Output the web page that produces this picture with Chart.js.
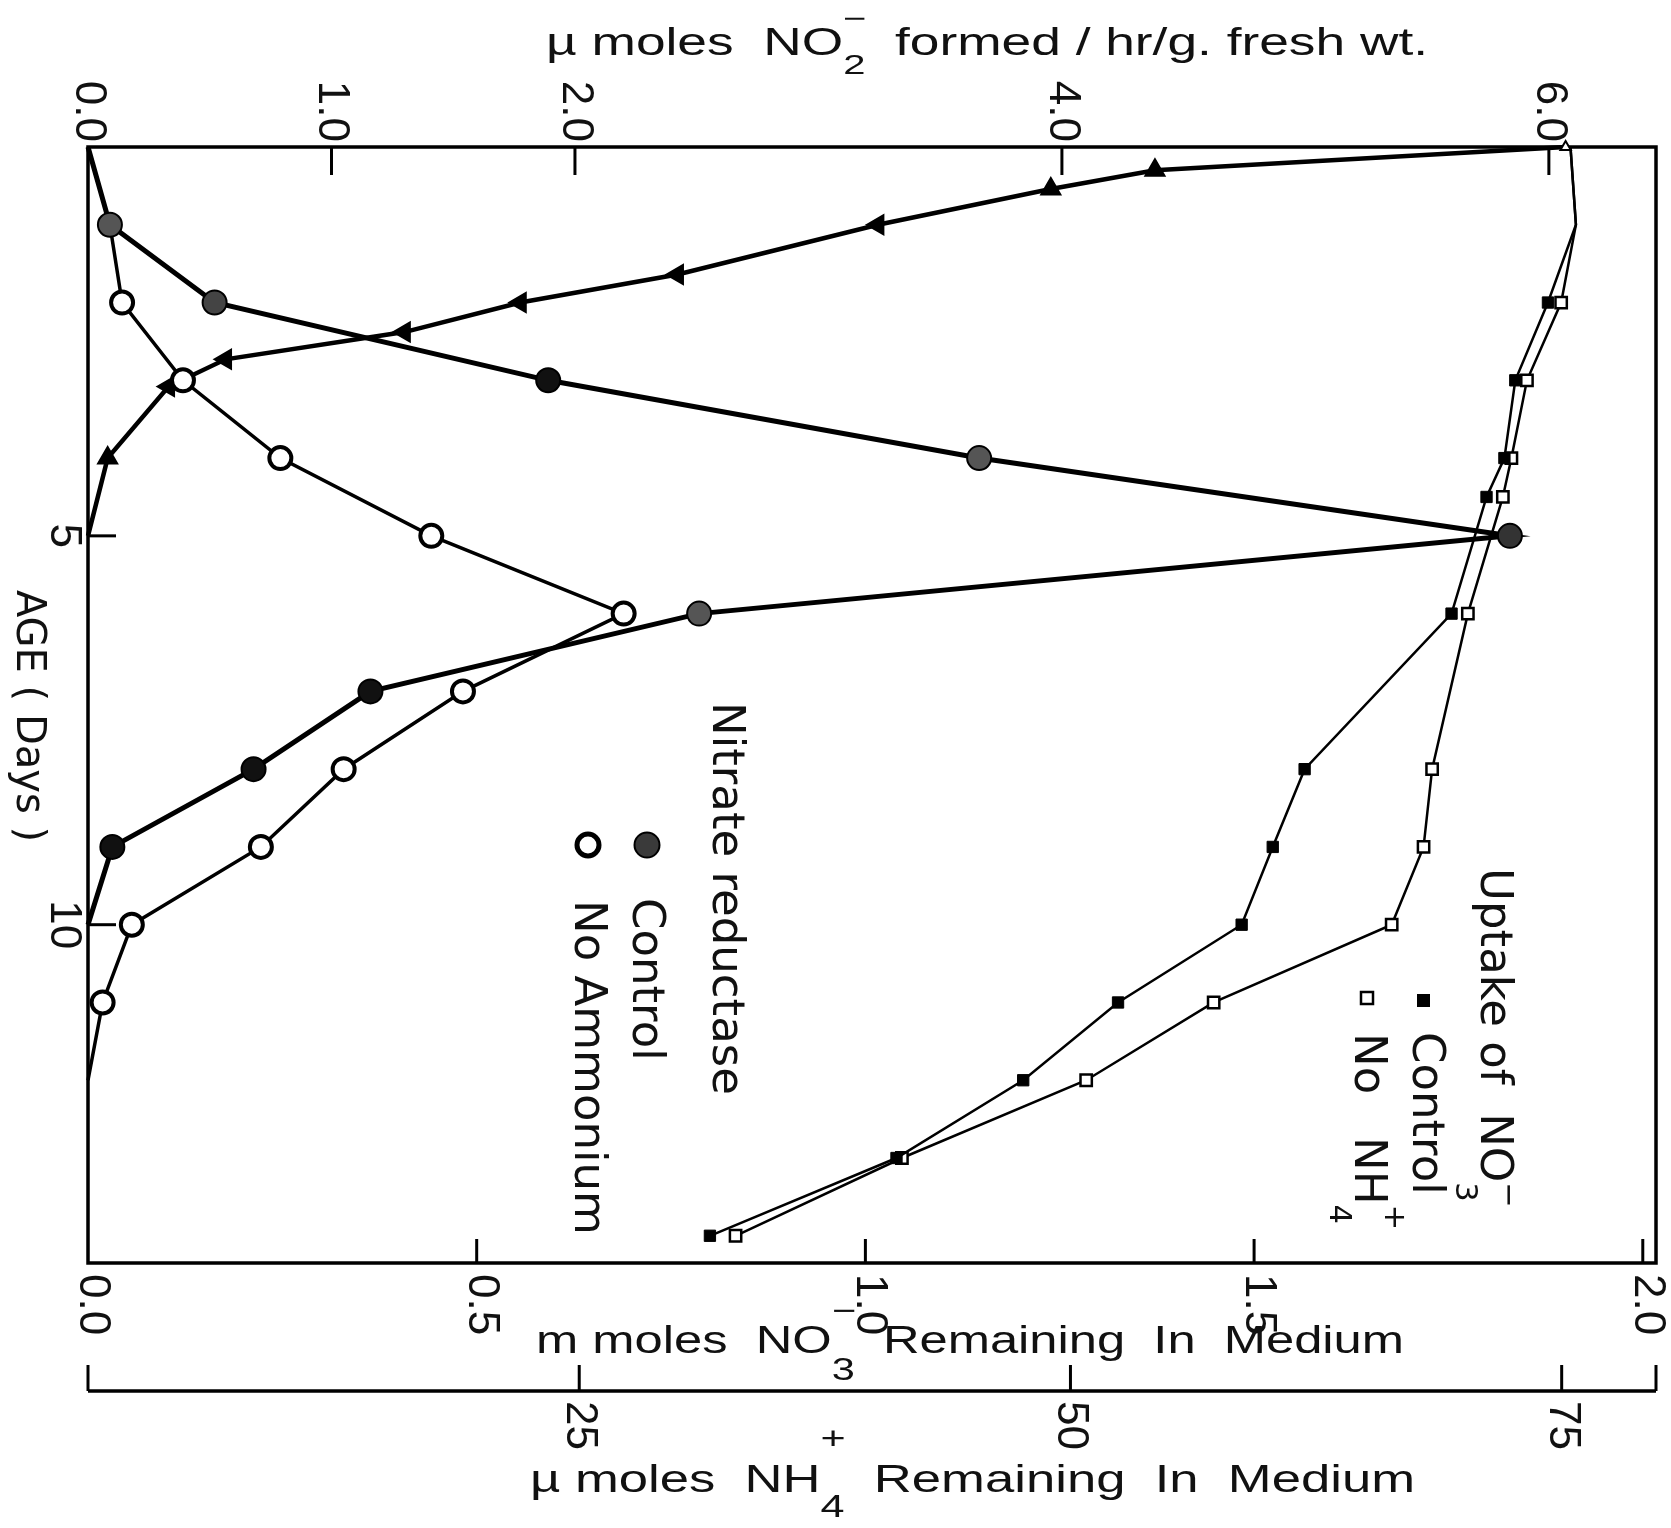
<!DOCTYPE html>
<html>
<head>
<meta charset="utf-8">
<title>Nitrate reductase and nitrate uptake</title>
<script src="https://cdn.jsdelivr.net/npm/chart.js@4.4.1/dist/chart.umd.min.js"></script>
<style>
  body { margin: 0; background: #fff; }
  canvas { display: block; }
</style>
</head>
<body>
<canvas id="chart" width="1671" height="1528"></canvas>
<script>
// Nitrate reductase (u moles NO2- formed/hr/g fresh wt) =====================
const nrDays = [0, 1, 2, 3, 4, 5, 6, 7, 8, 9, 10];
const nrControl = [0, 0.09, 0.52, 1.89, 3.66, 5.84, 2.51, 1.16, 0.68, 0.1, 0];
const nrNoAmmDays = [0, 1, 2, 3, 4, 5, 6, 7, 8, 9, 10, 11, 12];
const nrNoAmmonium = [0, 0.09, 0.14, 0.39, 0.79, 1.41, 2.2, 1.54, 1.05, 0.71, 0.18, 0.06, 0];

// NH4+ remaining in medium (u moles) ========================================
const nh4Days = [0, 0.3, 0.54, 1, 1.64, 2, 2.38, 2.73, 3.08, 4, 5];
const nh4Remaining = [75.2, 54.3, 49.0, 40.2, 30.0, 22.0, 16.1, 7.0, 4.1, 1.0, 0];

// NO3- remaining in medium (m moles) ========================================
const no3Days = [0, 1, 2, 3, 4, 4.5, 6, 8, 9, 10, 11, 12, 13, 14];
const no3Control = [1.907, 1.914, 1.878, 1.836, 1.822, 1.799, 1.754, 1.565, 1.524, 1.484, 1.325, 1.203, 1.04, 0.8];
const no3NoNH4 = [1.907, 1.914, 1.895, 1.851, 1.831, 1.82, 1.775, 1.729, 1.718, 1.677, 1.448, 1.284, 1.047, 0.833];

// Ticks ======================================================================
const dayTicks = [5, 10];
const nrTicks = [0, 1, 2, 4, 6];
const no3Ticks = [0, 0.5, 1, 1.5, 2];
const nh4Ticks = [25, 50, 75];

const INK = "#111";
const TICK_FONT = "Liberation Sans";
const LEGEND_FONT = "DejaVu Sans";

function pts(xs, ys) {
  return ys.map((v, i) => ({ x: v, y: xs[i] }));
}

// text with sub / superscripts, optionally turned 90deg clockwise
function drawLabel(ctx, parts, x, y, o) {
  const fam = o.family || LEGEND_FONT;
  const small = o.size * (o.small || 0.62);
  const runs = [];
  let w = 0;
  let prevX = 0;
  for (const p of parts) {
    const isSmall = p.sub !== undefined || p.sup !== undefined;
    const fs = isSmall ? small : o.size;
    ctx.font = fs + "px '" + fam + "'";
    const tw = ctx.measureText(p.t).width;
    if (p.sup !== undefined) {
      runs.push({ t: p.t, fs: fs, x: prevX, y: o.size * p.sup });
    } else {
      runs.push({ t: p.t, fs: fs, x: w, y: p.sub !== undefined ? o.size * p.sub : 0 });
      prevX = w;
      w += tw;
    }
  }
  ctx.save();
  ctx.translate(x, y);
  if (o.rotate) ctx.rotate(Math.PI / 2);
  if (o.width) ctx.scale(o.width / w, 1);
  const x0 = o.align === "center" ? -w / 2 : o.align === "end" ? -w : 0;
  ctx.fillStyle = INK;
  ctx.textAlign = "left";
  ctx.textBaseline = o.baseline || "alphabetic";
  for (const r of runs) {
    ctx.font = r.fs + "px '" + fam + "'";
    ctx.fillText(r.t, x0 + r.x, r.y);
  }
  ctx.restore();
}

function line(ctx, x1, y1, x2, y2) {
  ctx.beginPath();
  ctx.moveTo(x1, y1);
  ctx.lineTo(x2, y2);
  ctx.stroke();
}

// Frame, ticks, axis texts and the hand lettered legends =====================
const paperPlugin = {
  id: "paper",
  beforeDatasetsDraw(chart) {
    const { ctx, chartArea: a, scales } = chart;
    ctx.save();
    ctx.strokeStyle = "#000";
    ctx.lineWidth = 3.5;
    ctx.lineCap = "square";
    ctx.strokeRect(a.left, a.top, a.width, a.height);

    ctx.lineWidth = 3;
    ctx.lineCap = "butt";
    nrTicks.forEach((v) => {
      if (v === 0) return;
      const x = scales.xNR.getPixelForValue(v);
      line(ctx, x, a.top, x, a.top + 28);
    });
    dayTicks.forEach((v) => {
      const y = scales.y.getPixelForValue(v);
      line(ctx, a.left, y, a.left + 28, y);
    });
    no3Ticks.forEach((v) => {
      if (v === 0) return;
      const x = scales.xNO3.getPixelForValue(v);
      line(ctx, x, a.bottom, x, a.bottom - 24);
    });

    // separate NH4+ axis under the plot
    const yN = a.bottom + 128;
    const nx0 = scales.xNH4.getPixelForValue(scales.xNH4.min);
    const nx1 = scales.xNH4.getPixelForValue(scales.xNH4.max);
    ctx.lineWidth = 3.5;
    line(ctx, nx0, yN, nx1, yN);
    ctx.lineWidth = 3;
    [scales.xNH4.min].concat(nh4Ticks, [scales.xNH4.max]).forEach((v) => {
      const x = scales.xNH4.getPixelForValue(v);
      line(ctx, x, yN, x, yN - 26);
    });
    ctx.restore();
  },
  afterDraw(chart) {
    const { ctx, chartArea: a, scales } = chart;
    const tick = { size: 44, family: TICK_FONT, rotate: true, baseline: "middle" };

    nrTicks.forEach((v) => {
      const x = scales.xNR.getPixelForValue(v);
      drawLabel(ctx, [{ t: v.toFixed(1) }], x, a.top - 5, Object.assign({ align: "end" }, tick));
    });
    dayTicks.forEach((v) => {
      const y = scales.y.getPixelForValue(v);
      drawLabel(ctx, [{ t: String(v) }], a.left - 25, y, Object.assign({ align: "center" }, tick));
    });
    no3Ticks.forEach((v) => {
      const x = scales.xNO3.getPixelForValue(v);
      drawLabel(ctx, [{ t: v.toFixed(1) }], x + 4, a.bottom + 11, Object.assign({ align: "start" }, tick));
    });
    nh4Ticks.forEach((v) => {
      const x = scales.xNH4.getPixelForValue(v);
      drawLabel(ctx, [{ t: String(v) }], x, a.bottom + 138, Object.assign({ align: "start" }, tick));
    });

    // axis titles
    drawLabel(ctx, [{ t: "AGE ( Days )" }], 27, 716, { size: 40, rotate: true, align: "center", baseline: "middle" });
    drawLabel(ctx, [
      { t: "\u00b5 moles  NO" }, { t: "2", sub: 0.5 }, { t: "\u2212", sup: -0.71 },
      { t: "  formed / hr/g. fresh wt." }
    ], 546, 55, { size: 38, family: "Liberation Sans", width: 882, small: 0.75 });
    drawLabel(ctx, [
      { t: "m moles  NO" }, { t: "3", sub: 0.7 }, { t: "\u2212", sup: -0.85 },
      { t: "  Remaining  In  Medium" }
    ], 536, 1353, { size: 38, family: "Liberation Sans", width: 868, small: 0.82 });
    drawLabel(ctx, [
      { t: "\u00b5 moles  NH" }, { t: "4", sub: 0.65 }, { t: "+", sup: -1.12 },
      { t: "  Remaining  In  Medium" }
    ], 530, 1492, { size: 38, family: "Liberation Sans", width: 885, small: 0.82 });

    // legend: nitrate reductase
    const leg = { size: 45, rotate: true, baseline: "middle", align: "start" };
    drawLabel(ctx, [{ t: "Nitrate reductase" }], 725, 702, leg);
    drawLabel(ctx, [{ t: "Control" }], 645, 898, leg);
    drawLabel(ctx, [{ t: "No Ammonium" }], 587, 900, leg);
    ctx.save();
    ctx.strokeStyle = "#000";
    ctx.fillStyle = "#3a3a3a";
    ctx.lineWidth = 2;
    ctx.beginPath();
    ctx.arc(647, 845, 12.5, 0, Math.PI * 2);
    ctx.fill();
    ctx.stroke();
    ctx.fillStyle = "#fff";
    ctx.lineWidth = 5;
    ctx.beginPath();
    ctx.arc(588, 845, 11, 0, Math.PI * 2);
    ctx.fill();
    ctx.stroke();

    // legend: uptake of NO3-
    ctx.fillStyle = "#000";
    ctx.fillRect(1417, 994, 13, 13);
    ctx.fillStyle = "#fff";
    ctx.lineWidth = 2.5;
    ctx.fillRect(1361, 992, 12, 12);
    ctx.strokeRect(1361, 992, 12, 12);
    ctx.restore();
    drawLabel(ctx, [{ t: "Uptake of  NO" }, { t: "3", sub: 0.64 }, { t: "\u2212", sup: -0.31 }], 1493, 868,
      Object.assign({ small: 0.68 }, leg));
    drawLabel(ctx, [{ t: "Control" }], 1425, 1032, leg);
    drawLabel(ctx, [{ t: "No   NH" }, { t: "4", sub: 0.64 }, { t: "+", sup: -0.58 }], 1367, 1033,
      Object.assign({ small: 0.68 }, leg));
  }
};

// Datasets ===================================================================
const datasets = [
  {
    label: "Nitrate reductase - Control",
    data: pts(nrDays, nrControl),
    xAxisID: "xNR",
    yAxisID: "y",
    borderColor: "#000",
    borderWidth: 5,
    pointRadius: [0, 12, 12, 12, 12, 12, 12, 12, 12, 12, 0],
    pointBackgroundColor: ["#000", "#555", "#444", "#111", "#555", "#333", "#555", "#111", "#111", "#111", "#000"],
    pointBorderColor: "#000",
    pointBorderWidth: 2
  },
  {
    label: "Nitrate reductase - No Ammonium",
    data: pts(nrNoAmmDays, nrNoAmmonium),
    xAxisID: "xNR",
    yAxisID: "y",
    borderColor: "#000",
    borderWidth: 3.5,
    pointRadius: [0, 0, 11, 11, 11, 11, 11, 11, 11, 11, 11, 11, 0],
    pointBackgroundColor: "#fff",
    pointBorderColor: "#000",
    pointBorderWidth: 4
  },
  {
    label: "NH4+ remaining",
    data: pts(nh4Days, nh4Remaining),
    xAxisID: "xNH4",
    yAxisID: "y",
    borderColor: "#000",
    borderWidth: 4.5,
    pointStyle: "triangle",
    pointRadius: [6, 11, 11, 11, 11, 11, 11, 11, 11, 11, 0],
    pointRotation: [0, 0, 0, -90, -90, -90, -90, -90, -90, 0, 0],
    pointBackgroundColor: ["#fff", "#000", "#000", "#000", "#000", "#000", "#000", "#000", "#000", "#000", "#000"],
    pointBorderColor: "#000",
    pointBorderWidth: 2
  },
  {
    label: "Uptake of NO3- - Control",
    data: pts(no3Days, no3Control),
    xAxisID: "xNO3",
    yAxisID: "y",
    borderColor: "#000",
    borderWidth: 2.5,
    pointStyle: "rect",
    pointRadius: [0, 0, 8, 8, 8, 8, 8, 8, 8, 8, 8, 8, 8, 8],
    pointBackgroundColor: "#000",
    pointBorderColor: "#000",
    pointBorderWidth: 1
  },
  {
    label: "Uptake of NO3- - No NH4+",
    data: pts(no3Days, no3NoNH4),
    xAxisID: "xNO3",
    yAxisID: "y",
    borderColor: "#000",
    borderWidth: 2.5,
    pointStyle: "rect",
    pointRadius: [0, 0, 8, 8, 8, 8, 8, 8, 8, 8, 8, 8, 8, 8],
    pointBackgroundColor: "#fff",
    pointBorderColor: "#000",
    pointBorderWidth: 2.5
  }
];
datasets.forEach((d) => {
  d.showLine = true;
  d.tension = 0;
  d.clip = false;
  d.fill = false;
});

// Chart ======================================================================
new Chart(document.getElementById("chart"), {
  type: "scatter",
  data: { datasets: datasets },
  options: {
    responsive: false,
    animation: false,
    devicePixelRatio: 1,
    layout: { padding: { left: 88, top: 147, right: 15, bottom: 265 } },
    plugins: {
      legend: { display: false },
      tooltip: { enabled: false }
    },
    scales: {
      y: { type: "linear", axis: "y", position: "left", reverse: true, min: 0, max: 14.35, display: false },
      xNR: { type: "linear", axis: "x", position: "top", min: 0, max: 6.44, display: false },
      xNO3: { type: "linear", axis: "x", position: "bottom", min: 0, max: 2.017, display: false },
      xNH4: { type: "linear", axis: "x", position: "bottom", min: 0, max: 79.8, display: false }
    }
  },
  plugins: [paperPlugin]
});
</script>
</body>
</html>
